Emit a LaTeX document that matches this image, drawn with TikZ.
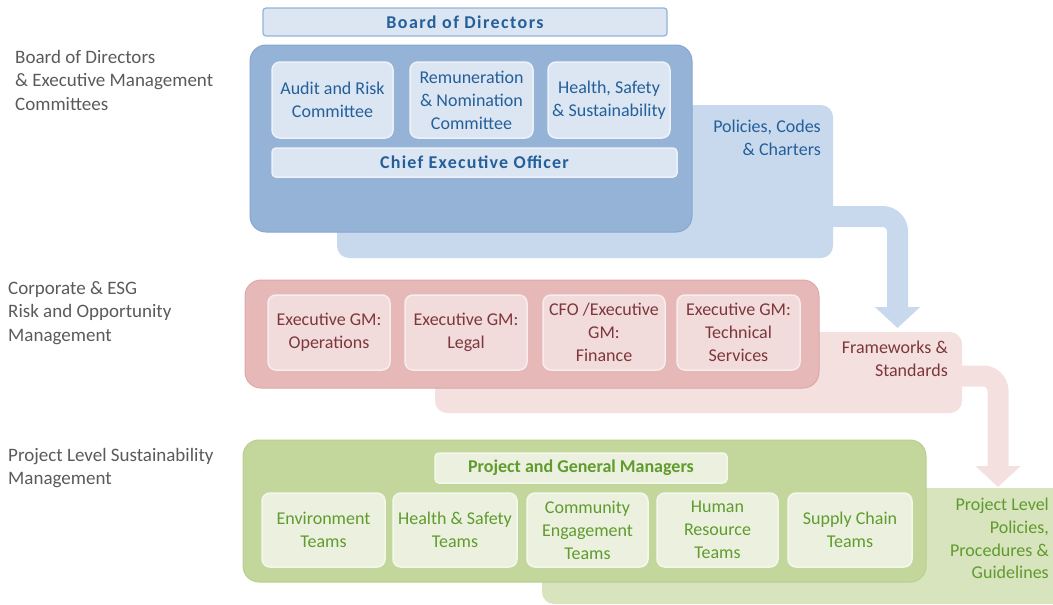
\documentclass[tikz,border=0pt]{standalone}
\usepackage{fontspec}
\setmainfont{Carlito}
\usetikzlibrary{arrows.meta}
\definecolor{bBig}{HTML}{95B3D7}
\definecolor{bBigLine}{HTML}{86A6CF}
\definecolor{bBack}{HTML}{C8D9ED}
\definecolor{bIn}{HTML}{DCE6F2}
\definecolor{bInLine}{HTML}{EDF2F9}
\definecolor{bText}{HTML}{235F9B}
\definecolor{rBig}{HTML}{E6B9B8}
\definecolor{rBigLine}{HTML}{DCA8A7}
\definecolor{rBack}{HTML}{F4E0DF}
\definecolor{rIn}{HTML}{F2DCDB}
\definecolor{rInLine}{HTML}{F8ECEC}
\definecolor{rText}{HTML}{7D373C}
\definecolor{gBig}{HTML}{C3D69B}
\definecolor{gBigLine}{HTML}{B9CF8E}
\definecolor{gBack}{HTML}{D7E4BD}
\definecolor{gIn}{HTML}{EBF1DE}
\definecolor{gInLine}{HTML}{F4F8EC}
\definecolor{gText}{HTML}{5F9B2D}
\definecolor{lText}{HTML}{5A5A5A}
\tikzset{
  panel/.style={anchor=north west, inner sep=0pt, outer sep=0pt},
  bigbox/.style={panel, rounded corners=16pt, line width=1pt},
  backbox/.style={panel, rounded corners=12pt},
  inbox/.style={panel, rounded corners=8pt, line width=1.5pt, align=center,
    font=\fontsize{18}{23}\selectfont},
  bluein/.style={inbox, fill=bIn, draw=bInLine, text=bText},
  redin/.style={inbox, fill=rIn, draw=rInLine, text=rText},
  greenin/.style={inbox, fill=gIn, draw=gInLine, text=gText},
  sidetext/.style={anchor=north east, inner sep=0pt, align=right,
    font=\fontsize{18}{22.7}\selectfont},
  leftlabel/.style={anchor=north west, inner sep=0pt, align=left, text=lText,
    font=\fontsize{19}{23.5}\selectfont},
  flowarrow/.style={line width=21pt, rounded corners=15pt,
    -{Triangle[width=44pt,length=21pt]}},
}
\begin{document}
\begin{tikzpicture}[x=1pt,y=-1pt]
\useasboundingbox (0,0) rectangle (1053,605);

% ---------- left labels
\node[leftlabel] (lab1) at (15,50) {Board of Directors\\\& Executive Management\\Committees};
\node[leftlabel] (lab2) at (8,281) {Corporate \& ESG\\Risk and Opportunity\\Management};
\node[leftlabel] (lab3) at (8,448) {Project Level Sustainability\\Management};

% ---------- blue level
\node[backbox, fill=bBack, minimum width=496pt, minimum height=153pt] (bback) at (337,105) {};
\coordinate (ba1) at (825,216.5);
\coordinate (ba2) at (897.5,328);
\draw[flowarrow, draw=bBack] (ba1) -| (ba2);
\node[bigbox, fill=bBig, draw=bBigLine, minimum width=442pt, minimum height=187pt] (bbig) at (250,45) {};
\node[panel, rounded corners=3pt, fill=bIn, draw=bBig, line width=1.2pt,
  minimum width=404pt, minimum height=28pt, text=bText,
  font=\fontsize{18}{22}\selectfont\bfseries\addfontfeature{LetterSpace=8}] (board) at (263,8) {Board of Directors};
\node[bluein, minimum width=121pt, minimum height=76pt] (audit) at (272,62) {Audit and Risk\\Committee};
\node[bluein, minimum width=123pt, minimum height=76pt] (remun) at (410,62) {Remuneration\\\& Nomination\\Committee};
\node[bluein, minimum width=122pt, minimum height=76pt] (hss) at (548,62) {Health, Safety\\\& Sustainability};
\node[bluein, rounded corners=4pt, minimum width=405pt, minimum height=29pt,
  font=\fontsize{18}{22}\selectfont\bfseries\addfontfeature{LetterSpace=7}] (ceo) at (272,148) {Chief Executive Officer};
\node[sidetext, text=bText] (pol) at (821,120) {Policies, Codes\\\& Charters};

% ---------- red level
\node[backbox, fill=rBack, minimum width=527pt, minimum height=81pt] (rback) at (435,332) {};
\coordinate (ra1) at (945,376);
\coordinate (ra2) at (998,487);
\draw[flowarrow, draw=rBack] (ra1) -| (ra2);
\node[bigbox, fill=rBig, draw=rBigLine, minimum width=574pt, minimum height=108pt] (rbig) at (245,280) {};
\node[redin, minimum width=122pt, minimum height=75pt] (ops) at (268,295) {Executive GM:\\Operations};
\node[redin, minimum width=122pt, minimum height=75pt] (legal) at (405,295) {Executive GM:\\Legal};
\node[redin, minimum width=122pt, minimum height=75pt] (cfo) at (543,295) {CFO /Executive\\GM:\\Finance};
\node[redin, minimum width=123pt, minimum height=75pt] (tech) at (677,295) {Executive GM:\\Technical\\Services};
\node[sidetext, text=rText] (fw) at (948,341) {Frameworks \&\\Standards};

% ---------- green level
\node[backbox, fill=gBack, minimum width=530pt, minimum height=116pt] (gback) at (542,488) {};
\node[bigbox, fill=gBig, draw=gBigLine, minimum width=683pt, minimum height=142pt] (gbig) at (243,440) {};
\node[greenin, rounded corners=4pt, minimum width=292pt, minimum height=30pt,
  font=\fontsize{18}{22}\selectfont\bfseries] (pgm) at (435,453) {Project and General Managers};
\node[greenin, minimum width=123pt, minimum height=74pt] (env) at (262,493) {Environment\\Teams};
\node[greenin, minimum width=124pt, minimum height=74pt] (hs) at (393,493) {Health \& Safety\\Teams};
\node[greenin, minimum width=121pt, minimum height=74pt] (comm) at (527,493) {Community\\Engagement\\Teams};
\node[greenin, minimum width=121pt, minimum height=74pt] (hr) at (657,493) {Human\\Resource\\Teams};
\node[greenin, minimum width=124pt, minimum height=74pt] (supply) at (788,493) {Supply Chain\\Teams};
\node[sidetext, text=gText] (ppp) at (1049,498) {Project Level\\Policies,\\Procedures \&\\Guidelines};
\end{tikzpicture}
\end{document}
